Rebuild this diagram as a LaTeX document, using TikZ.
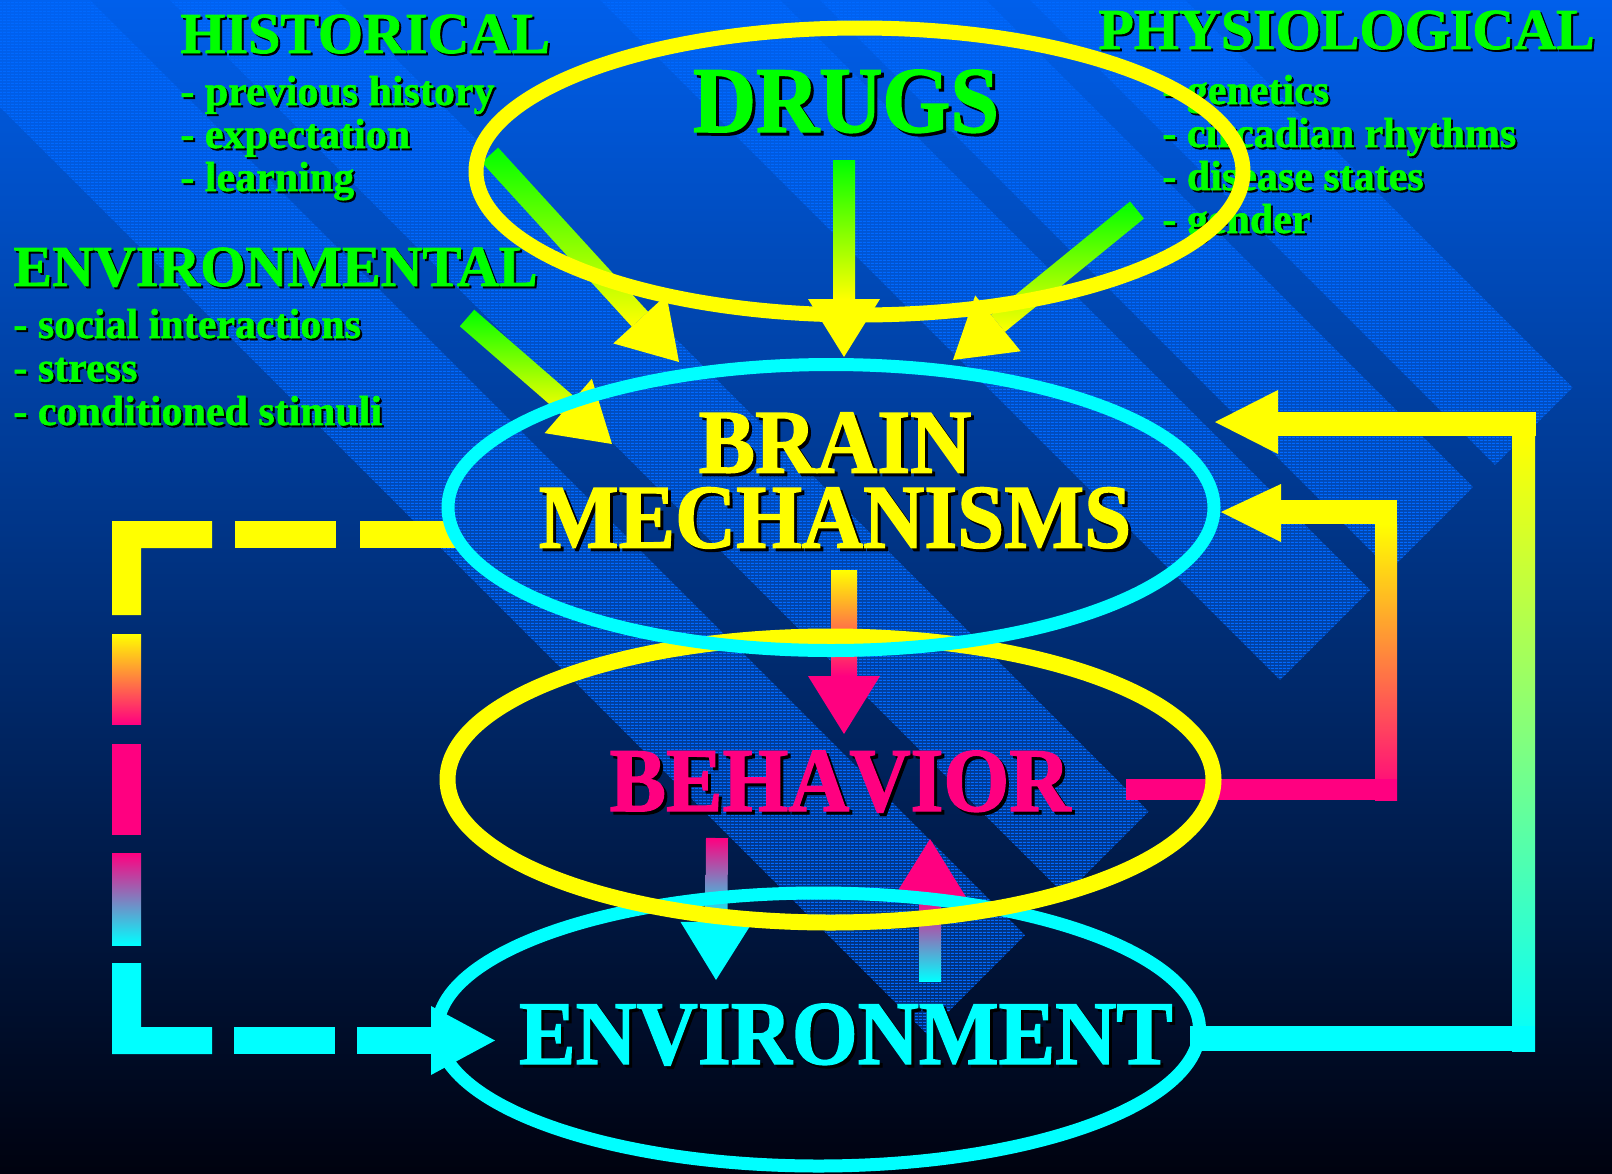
\documentclass[tikz,border=0pt]{standalone}
\usepackage{fontspec}
\setmainfont{Liberation Serif}[BoldFeatures={FakeBold=1.3}]
\newfontfamily\narrowserif{Liberation Serif Bold}[FakeStretch=0.93, Kerning=Off, FakeBold=1.5]
\usetikzlibrary{calc, shapes.geometric, patterns}

\definecolor{behpink}{RGB}{255,0,128}
\definecolor{lgreen}{RGB}{0,255,0}
\definecolor{lyellow}{RGB}{255,255,0}
\definecolor{lcyan}{RGB}{0,255,255}
\definecolor{skytop}{RGB}{0,95,235}
\definecolor{skymid}{RGB}{0,55,150}
\definecolor{skybot}{RGB}{0,2,15}
\definecolor{bandblue}{RGB}{0,105,255}
\definecolor{paleyg}{RGB}{190,255,170}

\pgfdeclarepatternformonly{finelines}{\pgfqpoint{0pt}{0pt}}{\pgfqpoint{2pt}{1.5pt}}{\pgfqpoint{2pt}{1.5pt}}{\pgfpathrectangle{\pgfqpoint{0pt}{0pt}}{\pgfqpoint{2pt}{0.8pt}}\pgfusepath{fill}}

\newcommand\dropsh[2][1pt]{\leavevmode\rlap{\kern#1\raisebox{-#1}{\color{black}#2}}#2}

\newcommand\fatarrow[5]{%
	\coordinate (hb) at ($(#2)!29pt!(#1)$);
	\shade [#3] ($(#1)!#5!90:(#2)$) -- ($(hb)!#5!90:(#2)$) -- ($(hb)!#5!-90:(#2)$) -- ($(#1)!#5!-90:(#2)$) -- cycle;
	\fill [#4] ($(hb)!18pt!90:(#2)$) -- (#2) -- ($(hb)!18pt!-90:(#2)$) -- cycle;
}

\tikzset{
	heading/.style = {inner sep=0pt, anchor=base west, text=lgreen, font=\bfseries\fontsize{29}{29}\selectfont},
	item/.style = {inner sep=0pt, anchor=base west, text=lgreen, font=\bfseries\fontsize{21}{21}\selectfont},
	bigword/.style = {inner sep=0pt, anchor=base, font=\narrowserif\fontsize{#1}{#1}\selectfont},
	ring/.style = {ellipse, draw, inner sep=0pt, outer sep=0pt},
}

\begin{document}
\begin{tikzpicture} [x = 0.5pt, y = -0.5pt]
	\useasboundingbox (0,0) rectangle (1612,1173);
	\shade [top color=skytop, middle color=skymid, bottom color=skybot] (0,0) rectangle (1612,1173);
	\begin{scope}
		\clip (0,0) rectangle (1612,1173);
		\foreach \a/\b in {1030/1185, 820/986, 600/780, 170/337, -107/90} {
			\fill [bandblue, opacity=0.35] (\a-600,-600) -- (\b-600,-600) -- ({(1960+\b)/2},{(1960-\b)/2}) -- ({(1960+\a)/2},{(1960-\a)/2}) -- cycle;
			\fill [pattern=finelines, pattern color=bandblue] (\a-600,-600) -- (\b-600,-600) -- ({(1960+\b)/2},{(1960-\b)/2}) -- ({(1960+\a)/2},{(1960-\a)/2}) -- cycle;
		}
	\end{scope}

	\node [heading] (physio) at (1098,49) {\dropsh{PHYSIOLOGICAL}};
	\foreach \t [count=\i] in {genetics, circadian rhythms, disease states, gender}
		\node [item] (physio-\i) at (1162,61+43*\i) {\dropsh{- \t}};
	\node [heading] (hist) at (180,53) {\dropsh{HISTORICAL}};
	\foreach \t [count=\i] in {previous history, expectation, learning}
		\node [item] (hist-\i) at (180,62+43*\i) {\dropsh{- \t}};

	\fill [lyellow] (360,521) rectangle (456,548);
	\fill [lyellow] (235,521) rectangle (336,548);
	\fill [lyellow] (112,521) -- (212,521) -- (212,548) -- (141,548) -- (141,615) -- (112,615) -- cycle;
	\shade [top color=lyellow, bottom color=behpink] (112,634) rectangle (141,724);
	\fill [behpink] (112,744) rectangle (141,835);
	\shade [top color=behpink, bottom color=lcyan] (112,853) rectangle (141,945);
	\fill [lcyan] (112,963) -- (141,963) -- (141,1027) -- (212,1027) -- (212,1054) -- (112,1054) -- cycle;
	\fill [lcyan] (234,1027) rectangle (335,1054);
	\fill [lcyan] (357,1027) rectangle (432,1054);
	\fill [lcyan] (431,1006) -- (495,1040.5) -- (431,1075) -- cycle;

	\shade [top color=lyellow, bottom color=behpink] (1375,524) rectangle (1397,800);
	\fill [behpink] (1126,779) rectangle (1397,800);
	\fill [lyellow] (1281,500) rectangle (1397,524);
	\fill [lyellow] (1281,484) -- (1221,512) -- (1281,542) -- cycle;
	\shade [top color=lyellow, middle color=paleyg, bottom color=lcyan] (1512,436) rectangle (1535,1051);
	\fill [lcyan] (1190,1026) rectangle (1535,1051);
	\fill [lyellow] (1278,412) rectangle (1536,436);
	\fill [lyellow] (1278,390) -- (1215,422) -- (1278,454) -- cycle;

	\coordinate (hist-out) at (490,155);
	\coordinate (hist-in) at (679,362);
	\coordinate (drugs-out) at (844,160);
	\coordinate (drugs-in) at (844,357);
	\coordinate (physio-out) at (1137,210);
	\coordinate (physio-in) at (953,360);
	\coordinate (envfac-out) at (467,318);
	\coordinate (envfac-in) at (612,444);
	\coordinate (brain-out) at (844,570);
	\coordinate (behavior-in) at (844,734);
	\coordinate (behavior-out) at (717,838);
	\coordinate (environment-in) at (716,980);
	\coordinate (environment-out) at (930,981);
	\coordinate (behavior-back) at (930,839);
	\fatarrow{hist-out}{hist-in}{top color=lgreen, bottom color=lyellow}{lyellow}{5.5pt}
	\fatarrow{drugs-out}{drugs-in}{top color=lgreen, bottom color=lyellow}{lyellow}{5.5pt}
	\fatarrow{physio-out}{physio-in}{top color=lgreen, bottom color=lyellow}{lyellow}{5.5pt}
	\fatarrow{envfac-out}{envfac-in}{top color=lgreen, bottom color=lyellow}{lyellow}{5.5pt}
	\fatarrow{brain-out}{behavior-in}{top color=lyellow, bottom color=behpink}{behpink}{6.5pt}
	\fatarrow{behavior-out}{environment-in}{top color=behpink, bottom color=lcyan}{lcyan}{5.5pt}
	\fatarrow{environment-out}{behavior-back}{top color=behpink, bottom color=lcyan}{behpink}{5.5pt}

	\node [ring, draw=lcyan, line width=6.5pt, minimum width=381pt, minimum height=136.5pt] (environment) at (818.5,1029.5) {};
	\node [ring, draw=lyellow, line width=8pt, minimum width=383pt, minimum height=143pt] (behavior) at (830.5,779.5) {};
	\node [ring, draw=lcyan, line width=6.5pt, minimum width=383pt, minimum height=143pt] (brain) at (831,507.5) {};
	\node [ring, draw=lyellow, line width=7.5pt, minimum width=383.5pt, minimum height=143.5pt] (drugs) at (859.5,171.5) {};

	\node [heading] (envfac) at (13,286) {\dropsh{ENVIRONMENTAL}};
	\foreach \t [count=\i] in {social interactions, stress, conditioned stimuli}
		\node [item] (envfac-\i) at (13,294.5+43.5*\i) {\dropsh{- \t}};

	\node [bigword=47, text=lgreen] (drugs-lbl) at (846,132) {\dropsh[1.5pt]{DRUGS}};
	\node [inner sep=0pt, align=center, text=lyellow, font=\narrowserif\fontsize{45.5}{37.5}\selectfont] (brain-lbl) at (835,482) {\dropsh[1.5pt]{BRAIN}\\\dropsh[1.5pt]{MECHANISMS}};
	\node [bigword=45.5, text=behpink] (behavior-lbl) at (840,811) {\dropsh[1.5pt]{BEHAVIOR}};
	\node [bigword=45.5, text=lcyan] (environment-lbl) at (846,1064) {\dropsh[1.5pt]{ENVIRONMENT}};
\end{tikzpicture}
\end{document}
